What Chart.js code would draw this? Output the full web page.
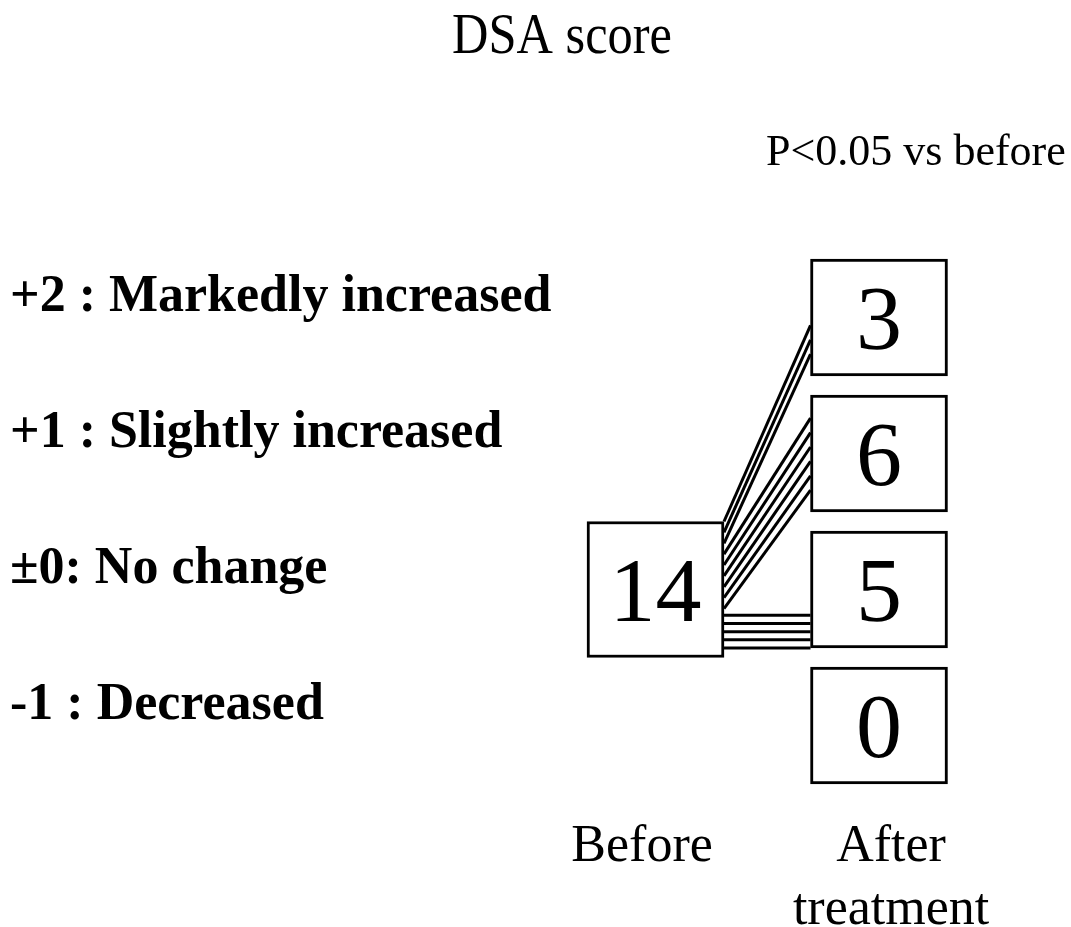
<!DOCTYPE html>
<html lang="en">
<head>
  <meta charset="UTF-8">
  <title>DSA score</title>
  <script src="https://cdn.jsdelivr.net/npm/chart.js"></script>
  <style>
    body {
      margin: 0;
      background-color: #fff;
    }

    .wrap {
      width: 1071px;
      height: 927px;
      position: relative;
    }
  </style>
</head>
<body>
  <div class="wrap">
    <canvas id="dsaChart"></canvas>
  </div>

<script>
    // values
    const scoreLevels = [2, 1, 0, -1];
    const scoreLabels = ['+2 : Markedly increased', '+1 : Slightly increased', '\u00b10: No change', '-1 : Decreased'];
    const beforeCount = 14;
    const afterCounts = [3, 6, 5, 0];
    const phaseLabels = ['Before', ['After', 'treatment']];
    const beforeLevel = 0;

    const SERIF = '"Liberation Serif", "Times New Roman", serif';

    // box geometry in axis units (x: 0 = before, 1 = after; y: score level)
    const boxHalfW = 0.3065;
    const beforeHalfH = 0.5;
    const afterHalfH = 0.43;

    // boxes as floating bars
    const boxData = [{ x: 0, y: [beforeLevel - beforeHalfH, beforeLevel + beforeHalfH] }];
    scoreLevels.forEach(lv => boxData.push({ x: 1, y: [lv - afterHalfH, lv + afterHalfH] }));
    const boxValues = [beforeCount, ...afterCounts];

    // one line per patient, fanned out from the before box
    const linkSets = [];
    let moved = 0;
    scoreLevels.forEach((lv, g) => {
      const n = afterCounts[g];
      for (let j = 0; j < n; j++) {
        let yL, yR;
        if (lv === beforeLevel) {
          yL = beforeLevel - beforeHalfH + 0.07 + (n - 1 - j) * 0.06;
          yR = yL;
        } else {
          yL = beforeLevel + beforeHalfH - moved * 0.08;
          yR = lv - 0.27 + (n - 1 - j) * 0.106;
          moved++;
        }
        linkSets.push({
          type: 'line',
          data: [{ x: boxHalfW, y: yL }, { x: 1 - boxHalfW, y: yR }],
          borderColor: '#000',
          borderWidth: 3,
          pointRadius: 0,
          fill: false,
          order: 1
        });
      }
    });

    const boxText = {
      id: 'boxText',
      afterDatasetsDraw(chart) {
        const ctx = chart.ctx;
        const meta = chart.getDatasetMeta(0);
        ctx.save();
        ctx.fillStyle = '#000';
        ctx.textAlign = 'center';
        ctx.textBaseline = 'alphabetic';
        ctx.font = '92px ' + SERIF;
        meta.data.forEach((bar, i) => {
          const cy = (bar.y + bar.base) / 2;
          ctx.fillText(String(boxValues[i]), bar.x, cy + 31);
        });

        // heading
        ctx.save();
        ctx.translate(562, 53);
        ctx.scale(0.9, 1);
        ctx.font = '56px ' + SERIF;
        ctx.fillText('DSA score', 0, 0);
        ctx.restore();

        ctx.textAlign = 'left';
        ctx.font = '44px ' + SERIF;
        ctx.fillText('P<0.05 vs before', 766, 165);
        ctx.restore();
      }
    };

    new Chart(document.getElementById('dsaChart'), {
      type: 'bar',
      data: {
        datasets: [
          {
            data: boxData,
            backgroundColor: '#fff',
            borderColor: '#000',
            borderWidth: 3,
            borderSkipped: false,
            barThickness: 137,
            order: 0
          },
          ...linkSets
        ]
      },
      options: {
        responsive: true,
        maintainAspectRatio: false,
        animation: false,
        events: [],
        layout: { padding: { left: 10, top: 0, right: 0, bottom: 0 } },
        plugins: {
          legend: { display: false },
          tooltip: { enabled: false }
        },
        scales: {
          x: {
            type: 'linear',
            min: -0.3602,
            max: 1.859,
            offset: false,
            grid: { display: false },
            border: { display: false },
            // labels sit a little off the box centres in the figure
            afterBuildTicks: axis => { axis.ticks = [{ value: -0.06 }, { value: 1.054 }]; },
            afterFit: axis => { axis.height = 121; axis.paddingLeft = 0; axis.paddingRight = 0; },
            ticks: {
              padding: 2,
              maxRotation: 0,
              autoSkip: false,
              color: '#000',
              font: { family: SERIF, size: 52, lineHeight: 1.21 },
              callback: (v, i) => phaseLabels[i]
            }
          },
          y: {
            type: 'linear',
            min: -1.5919,
            max: 4.3346,
            grid: { display: false },
            border: { display: false },
            afterBuildTicks: axis => { axis.ticks = scoreLevels.map(v => ({ value: v })); },
            afterFit: axis => { axis.width = 565; axis.paddingTop = 0; axis.paddingBottom = 0; },
            ticks: {
              crossAlign: 'far',
              autoSkip: false,
              color: '#000',
              font: { family: SERIF, size: 52, weight: 'bold', lineHeight: 0.77 },
              callback: v => [scoreLabels[scoreLevels.indexOf(v)], '']
            }
          }
        }
      },
      plugins: [boxText]
    });
</script>
</body>
</html>
